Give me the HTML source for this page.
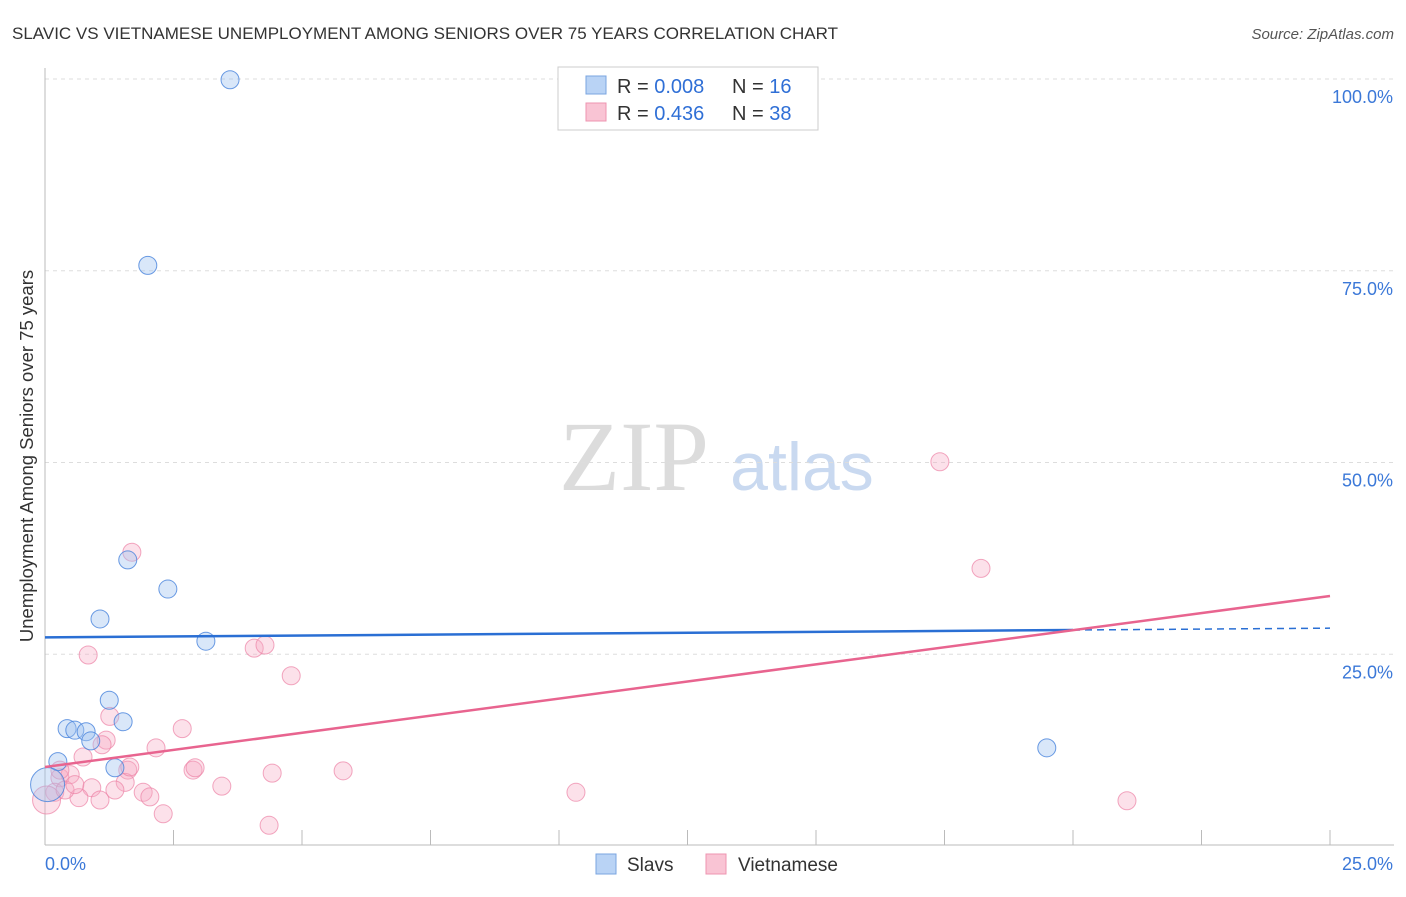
<!DOCTYPE html>
<html><head><meta charset="utf-8"><style>
body{margin:0;background:#fff;font-family:"Liberation Sans",sans-serif;}
</style></head><body>
<svg id="c" width="1406" height="892" xmlns="http://www.w3.org/2000/svg" font-family="Liberation Sans, sans-serif">
<text x="12" y="39" font-size="17" fill="#333">SLAVIC VS VIETNAMESE UNEMPLOYMENT AMONG SENIORS OVER 75 YEARS CORRELATION CHART</text>
<text x="1394" y="39" font-size="15" fill="#555" font-style="italic" text-anchor="end">Source: ZipAtlas.com</text>
<text x="634" y="490" font-size="100" fill="#dcdcdc" style="font-family:'Liberation Serif',serif" text-anchor="middle">ZIP</text>
<text x="802" y="490" font-size="68" fill="#c9d9f0" text-anchor="middle">atlas</text>
<text transform="translate(33,456) rotate(-90)" font-size="18.5" fill="#333" text-anchor="middle">Unemployment Among Seniors over 75 years</text>
<g id="grid"></g><g id="pts"></g><g id="lines"></g>
<g>
<rect x="558" y="67" width="260" height="63" fill="#fff" stroke="#ccc"/>
<rect x="586" y="76" width="20" height="18" fill="#b9d3f5" stroke="#7aa5e0"/>
<rect x="586" y="103" width="20" height="18" fill="#f9c4d4" stroke="#ee94b0"/>
<text x="617" y="93" font-size="20" fill="#333">R = <tspan fill="#2f6fd6">0.008</tspan></text>
<text x="732" y="93" font-size="20" fill="#333">N = <tspan fill="#2f6fd6">16</tspan></text>
<text x="617" y="120" font-size="20" fill="#333">R = <tspan fill="#2f6fd6"> 0.436</tspan></text>
<text x="732" y="120" font-size="20" fill="#333">N = <tspan fill="#2f6fd6">38</tspan></text>
</g>
<g>
<rect x="596" y="854" width="20" height="20" fill="#b9d3f5" stroke="#7aa5e0"/>
<text x="627" y="871" font-size="19" fill="#333">Slavs</text>
<rect x="706" y="854" width="20" height="20" fill="#f9c4d4" stroke="#ee94b0"/>
<text x="738" y="871" font-size="19" fill="#333">Vietnamese</text>
</g>
</svg>
<script>
const yTicks=[25,50,75,100];
const yTickLabels=["25.0%","50.0%","75.0%","100.0%"];
const slavX=[3.60,2.00,1.61,2.39,1.07,3.13,1.25,0.43,0.58,0.80,0.89,1.52,0.25,1.36,0.05,19.49];
const slavY=[99.9,75.7,37.3,33.5,29.6,26.7,19.0,15.3,15.1,14.9,13.7,16.2,11.0,10.2,8.0,12.8];
const slavR=[9,9,9,9,9,9,9,9,9,9,9,9,9,9,17,9];
const vietX=[1.69,0.84,4.07,4.28,4.79,1.26,1.19,2.16,2.67,1.11,0.74,2.88,2.92,1.61,1.56,0.91,0.29,0.49,1.91,2.04,0.66,1.07,2.30,3.44,4.42,5.80,4.36,10.33,17.41,18.21,21.05,0.19,0.03,0.39,1.65,0.58,0.29,1.36];
const vietY=[38.3,24.9,25.8,26.2,22.2,16.9,13.8,12.8,15.3,13.2,11.6,9.9,10.2,9.9,8.3,7.6,8.9,9.3,7.0,6.4,6.3,6.0,4.2,7.8,9.5,9.8,2.7,7.0,50.1,36.2,5.9,7.0,6.0,7.3,10.3,8.0,9.9,7.3];
const vietR=[9,9,9,9,9,9,9,9,9,9,9,9,9,9,9,9,9,9,9,9,9,9,9,9,9,9,9,9,9,9,9,9,14,9,9,9,9,9];
const slavTrend=[27.2,28.4];
const vietTrend=[10.3,32.6];
const NS="http://www.w3.org/2000/svg";
const X=v=>45+v/25*1285, Y=v=>846-v/100*767;
function mk(t,a,p){const e=document.createElementNS(NS,t);for(const k in a)e.setAttribute(k,a[k]);p.appendChild(e);return e;}
const g=document.getElementById('grid');
yTicks.forEach((t,i)=>{
 const l=mk('line',{x1:45,x2:1394,y1:Y(t),y2:Y(t),stroke:'#ddd','stroke-dasharray':'4,4'},g);
 
 
 const tx=mk('text',{x:1393,y:Y(t)+24,'font-size':18,fill:'#3b78d8','text-anchor':'end'},g);
 tx.textContent=yTickLabels[i];
 
 
});
mk('line',{x1:45,x2:45,y1:68,y2:845,stroke:'#bbb'},g);
mk('line',{x1:45,x2:1394,y1:845,y2:845,stroke:'#bbb'},g);
for(let i=1;i<=10;i++){const l=mk('line',{x1:X(i*2.5),x2:X(i*2.5),y1:830,y2:845,stroke:'#bbb'},g);
 
 }
const t0=mk('text',{x:45,y:870,'font-size':18,fill:'#3b78d8'},g);t0.textContent='0.0%';


const t1=mk('text',{x:1393,y:870,'font-size':18,fill:'#3b78d8','text-anchor':'end'},g);t1.textContent='25.0%';


const p=document.getElementById('pts');
vietX.forEach((x,i)=>{const c=mk('circle',{cx:X(x),cy:Y(vietY[i]),r:vietR[i],fill:'rgba(246,170,195,0.35)',stroke:'rgba(236,130,165,0.7)'},p);
 
 });
slavX.forEach((x,i)=>{const c=mk('circle',{cx:X(x),cy:Y(slavY[i]),r:slavR[i],fill:'rgba(160,195,240,0.4)',stroke:'rgba(70,130,220,0.8)'},p);
 
 });
const L=document.getElementById('lines');
const xs=20.0;
const sm=slavTrend[0]+(slavTrend[1]-slavTrend[0])*xs/25;
const b1=mk('line',{x1:X(0),y1:Y(slavTrend[0]),x2:X(xs),y2:Y(sm),stroke:'#2a6fd4','stroke-width':2.5},L);


const b2=mk('line',{x1:X(xs),y1:Y(sm),x2:X(25),y2:Y(slavTrend[1]),stroke:'#2a6fd4','stroke-width':1.5,'stroke-dasharray':'7,5'},L);


const v=mk('line',{x1:X(0),y1:Y(vietTrend[0]),x2:X(25),y2:Y(vietTrend[1]),stroke:'#e8648f','stroke-width':2.5},L);


</script>
</body></html>
